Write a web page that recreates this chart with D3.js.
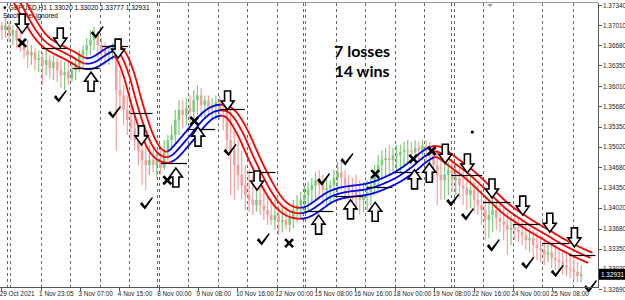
<!DOCTYPE html>
<html lang="en">
<head>
<meta charset="UTF-8">
<title>GBPUSD H1</title>
<style>
    body{ margin:0; background:#fff; }
    svg text{ font-family: "Liberation Sans", "Noto Sans", sans-serif; }
    .axis path, .axis line{ stroke:#555; shape-rendering: crispEdges; }
    .axis text{ fill:#222; font-size:6.4px; }
</style>
</head>
<body>
<svg width="625" height="300"></svg>
<script src="https://cdn.jsdelivr.net/npm/d3@7"></script>
<script>
// ---- data (H1 bars, 3 bars per drawn candle) ----
var firstOpen = 1.3700;
var candleHigh = [1.3706,1.3713,1.3706,1.3701,1.3696,1.3690,1.3680,1.3677,1.3668,1.3663,
    1.3660,1.3657,1.3660,1.3652,1.3652,1.3647,1.3644,1.3641,1.3644,1.3641,
    1.3647,1.3660,1.3668,1.3680,1.3693,1.3698,1.3690,1.3680,1.3673,1.3668,
    1.3672,1.3668,1.3627,1.3603,1.3586,1.3578,1.3554,1.3537,1.3521,1.3513,
    1.3505,1.3500,1.3496,1.3500,1.3513,1.3521,1.3537,1.3562,1.3578,1.3578,
    1.3582,1.3586,1.3595,1.3603,1.3598,1.3586,1.3586,1.3582,1.3586,1.3585,
    1.3578,1.3570,1.3562,1.3529,1.3513,1.3496,1.3472,1.3464,1.3456,1.3447,
    1.3444,1.3431,1.3423,1.3418,1.3415,1.3406,1.3402,1.3406,1.3398,1.3415,
    1.3423,1.3428,1.3439,1.3444,1.3451,1.3460,1.3464,1.3456,1.3451,1.3447,
    1.3464,1.3477,1.3480,1.3464,1.3456,1.3451,1.3456,1.3447,1.3444,1.3447,
    1.3451,1.3472,1.3488,1.3496,1.3500,1.3505,1.3500,1.3505,1.3505,1.3510,
    1.3513,1.3510,1.3513,1.3510,1.3513,1.3513,1.3510,1.3505,1.3496,1.3488,
    1.3480,1.3477,1.3480,1.3472,1.3467,1.3464,1.3460,1.3456,1.3444,1.3439,
    1.3431,1.3423,1.3415,1.3418,1.3415,1.3406,1.3402,1.3395,1.3390,1.3390,
    1.3385,1.3382,1.3374,1.3369,1.3366,1.3362,1.3357,1.3349,1.3346,1.3341,
    1.3341,1.3336,1.3333,1.3329,1.3325,1.3320,1.3313,1.3308];
var candleLow = [1.3677,1.3680,1.3673,1.3668,1.3663,1.3657,1.3647,1.3631,1.3636,1.3627,
    1.3624,1.3603,1.3619,1.3614,1.3611,1.3608,1.3598,1.3595,1.3603,1.3608,
    1.3611,1.3624,1.3631,1.3644,1.3652,1.3660,1.3647,1.3641,1.3636,1.3636,
    1.3644,1.3496,1.3562,1.3537,1.3521,1.3513,1.3496,1.3472,1.3439,1.3431,
    1.3456,1.3460,1.3451,1.3456,1.3464,1.3480,1.3496,1.3505,1.3521,1.3532,
    1.3537,1.3542,1.3549,1.3554,1.3549,1.3549,1.3554,1.3549,1.3546,1.3546,
    1.3529,1.3496,1.3423,1.3415,1.3431,1.3415,1.3398,1.3395,1.3390,1.3395,
    1.3390,1.3382,1.3374,1.3374,1.3366,1.3357,1.3362,1.3366,1.3362,1.3369,
    1.3379,1.3385,1.3395,1.3398,1.3406,1.3415,1.3418,1.3406,1.3406,1.3406,
    1.3415,1.3423,1.3431,1.3418,1.3415,1.3406,1.3398,1.3390,1.3395,1.3398,
    1.3406,1.3423,1.3431,1.3447,1.3451,1.3456,1.3460,1.3464,1.3460,1.3467,
    1.3472,1.3472,1.3480,1.3477,1.3480,1.3477,1.3472,1.3447,1.3406,1.3415,
    1.3415,1.3423,1.3428,1.3423,1.3418,1.3406,1.3398,1.3402,1.3395,1.3390,
    1.3374,1.3349,1.3352,1.3362,1.3366,1.3362,1.3349,1.3325,1.3341,1.3349,
    1.3346,1.3341,1.3333,1.3329,1.3320,1.3316,1.3313,1.3308,1.3313,1.3303,
    1.3300,1.3297,1.3292,1.3290,1.3287,1.3284,1.3280,1.3280];
var candleClose = [1.3693,1.3701,1.3685,1.3693,1.3677,1.3668,1.3660,1.3652,1.3657,1.3644,
    1.3647,1.3636,1.3644,1.3631,1.3641,1.3627,1.3619,1.3624,1.3614,1.3627,
    1.3636,1.3652,1.3660,1.3668,1.3677,1.3685,1.3668,1.3660,1.3652,1.3657,
    1.3660,1.3595,1.3586,1.3562,1.3546,1.3532,1.3513,1.3496,1.3480,1.3472,
    1.3480,1.3472,1.3480,1.3467,1.3496,1.3513,1.3521,1.3546,1.3562,1.3554,
    1.3565,1.3559,1.3578,1.3586,1.3570,1.3578,1.3565,1.3570,1.3575,1.3562,
    1.3559,1.3513,1.3496,1.3472,1.3456,1.3439,1.3423,1.3415,1.3406,1.3415,
    1.3406,1.3398,1.3390,1.3382,1.3390,1.3379,1.3382,1.3374,1.3385,1.3398,
    1.3406,1.3415,1.3423,1.3431,1.3439,1.3447,1.3439,1.3431,1.3434,1.3439,
    1.3451,1.3460,1.3451,1.3439,1.3431,1.3428,1.3423,1.3415,1.3423,1.3428,
    1.3439,1.3460,1.3472,1.3480,1.3483,1.3480,1.3488,1.3488,1.3493,1.3496,
    1.3496,1.3493,1.3500,1.3496,1.3503,1.3496,1.3500,1.3472,1.3456,1.3447,
    1.3456,1.3464,1.3447,1.3451,1.3439,1.3434,1.3423,1.3431,1.3415,1.3406,
    1.3398,1.3382,1.3390,1.3398,1.3385,1.3379,1.3374,1.3366,1.3369,1.3366,
    1.3362,1.3357,1.3349,1.3352,1.3341,1.3336,1.3333,1.3325,1.3329,1.3320,
    1.3316,1.3313,1.3308,1.3303,1.3300,1.3297,1.3290,1.3293];

// trend band centre line (bar index, price) and trend direction by bar range
var bandBars = [10,17,24,33,41,49,59,65,70,76,81,88,93,97,101,106,111,118,124,130,137,143,150,157,163,169,176,183,189,198,206,213,221,228,236,244,250,256,262,268,276,285,295,302,309,317,323,329,336,341,348,353,358,363,370,380,390,401,412,423,433,445,455,466,474,480];
var bandVals = [1.3758,1.3737,1.3709,1.3680,1.3667,1.3659,1.3649,1.3641,1.3637,1.3639,1.3645,1.3655,1.3660,1.3657,1.3642,1.3614,1.3573,1.3529,1.3501,1.3487,1.3483,1.3493,1.3510,1.3526,1.3542,1.3554,1.3562,1.3562,1.3555,1.3524,1.3485,1.3456,1.3426,1.3406,1.3395,1.3392,1.3395,1.3402,1.3411,1.3420,1.3426,1.3429,1.3431,1.3434,1.3439,1.3446,1.3452,1.3460,1.3470,1.3480,1.3490,1.3495,1.3493,1.3485,1.3474,1.3460,1.3441,1.3420,1.3398,1.3384,1.3370,1.3357,1.3344,1.3333,1.3325,1.3320];
var bandTrend = [[0,69,"down"],[69,93,"up"],[93,137,"down"],[137,179,"up"],[179,244,"down"],[244,351,"up"],[351,490,"down"]];

// signals: [bar, price]
var downArrows = [[18,1.3688],[49,1.3665],[96,1.3647],[115,1.3505],[185,1.3562],[209,1.3431],[362,1.3475],[380,1.3459],[400,1.3418],[425,1.3390],[447,1.3362],[467,1.3338]];
var upArrows = [[74,1.3624],[143,1.3467],[161,1.3534],[259,1.3390],[285,1.3415],[305,1.3411],[337,1.3464],[349,1.3475]];
var entryLines = [[34,55,1.3663],[59,81,1.3631],[83,104,1.3667],[106,124,1.3557],[131,152,1.3475],[152,175,1.3531],[179,199,1.3564],[202,224,1.3460],[248,271,1.3397],[272,295,1.3421],[298,319,1.3436],[321,341,1.3460],[367,392,1.3456],[393,415,1.3411],[417,439,1.3375],[441,463,1.3344],[463,484,1.3325]];
var wins = [[49,1.3583],[79,1.3688],[93,1.3557],[119,1.3408],[187,1.3495],[214,1.3349],[263,1.3447],[282,1.3480],[368,1.3413],[380,1.3390],[401,1.3339],[429,1.3310],[453,1.3297],[480,1.3272]];
var losses = [[18,1.3672],[136,1.3447],[158,1.3544],[235,1.3344],[305,1.3457],[336,1.3482],[351,1.3495]];
var dots = [[384,1.3526]];

// axes
var priceTicks = [1.37340,1.37010,1.36680,1.36350,1.36010,1.35680,1.35350,1.35020,1.34680,1.34350,1.34020,1.33680,1.33350,1.33020,1.32690];
var timeBars = [1,33,65,97,129,161,193,225,257,289,321,353,385,417,449];
var timeLabels = ["29 Oct 2021","1 Nov 23:05","3 Nov 07:00","4 Nov 15:00","8 Nov 00:00","9 Nov 08:00","10 Nov 16:00","12 Nov 00:00","15 Nov 08:00","16 Nov 16:00","18 Nov 00:00","19 Nov 08:00","22 Nov 16:00","24 Nov 00:00","25 Nov 08:00"];
var daySeparators = [6,8,33,57,81,105,127.5,129,153,177,201,225,246,248,273,297,321,345,367,369,393,417,441,466];
var lastPrice = 1.32931;

var svg = d3.select("svg"),
    plotRight = 598, plotTop = 3, plotBottom = 287;

var x = d3.scaleLinear().domain([0, 480]).range([0, 590.4]);
var y = d3.scaleLinear().domain([1.3269, 1.3734]).range([289, 5]);

svg.append("clipPath").attr("id", "plot")
    .append("rect").attr("x", 0).attr("y", plotTop).attr("width", plotRight).attr("height", plotBottom - plotTop);

// day separators
svg.append("g").selectAll("line").data(daySeparators).enter().append("line")
    .attr("x1", function(d){ return Math.round(x(d)) + 0.5; })
    .attr("x2", function(d){ return Math.round(x(d)) + 0.5; })
    .attr("y1", plotTop).attr("y2", plotBottom)
    .attr("stroke", "#666").attr("stroke-dasharray", "3,3");

// header
svg.append("text").attr("x", 3).attr("y", 10).attr("font-size", 6.6).attr("fill", "#000")
    .text("\u25BE GBPUSD,H1  1.33020 1.33020 1.33777 1.32931");
svg.append("text").attr("x", 3).attr("y", 18).attr("font-size", 6.6).attr("fill", "#000")
    .text("Stoch filter ignored");

// candles
var candles = candleClose.map(function(c, i){
    return {bar: 3*i + 1.5, o: i ? candleClose[i-1] : firstOpen, h: candleHigh[i], l: candleLow[i], c: c};
});
var cg = svg.append("g").attr("clip-path", "url(#plot)");
cg.selectAll(".wick").data(candles).enter().append("line")
    .attr("x1", function(d){ return x(d.bar); })
    .attr("x2", function(d){ return x(d.bar); })
    .attr("y1", function(d){ return y(d.h); })
    .attr("y2", function(d){ return y(d.l); })
    .attr("stroke", function(d){ return d.c >= d.o ? "#7ccc7c" : "#f5a0a0"; })
    .attr("stroke-width", 1.2);
cg.selectAll(".body").data(candles).enter().append("rect")
    .attr("x", function(d){ return x(d.bar) - 1.3; })
    .attr("width", 2.6)
    .attr("y", function(d){ return y(Math.max(d.o, d.c)); })
    .attr("height", function(d){ return Math.max(1, Math.abs(y(d.o) - y(d.c))); })
    .attr("fill", function(d){ return d.c >= d.o ? "#7ccc7c" : "#f5a0a0"; });

// trend band: centre curve plus two offset curves, coloured by trend
var off = 5.5;
var tmp = svg.append("path")
    .attr("d", d3.line().curve(d3.curveBasis)(bandBars.map(function(b, i){ return [x(b), y(bandVals[i])]; })));
var node = tmp.node(), L = node.getTotalLength();
var samples = d3.range(0, L, 1).concat([L]).map(function(l){ return node.getPointAtLength(l); });
tmp.remove();

function trendAt(bar){
    for (var k = 0; k < bandTrend.length; k++)
        if (bar >= bandTrend[k][0] && bar < bandTrend[k][1]) return bandTrend[k][2];
    return "down";
}
var bg = svg.append("g").attr("clip-path", "url(#plot)");
[-1, 0, 1].forEach(function(k){
    var pts = samples.map(function(p, j){
        var a = samples[Math.max(0, j-2)], b = samples[Math.min(samples.length-1, j+2)];
        var dx = b.x - a.x, dy = b.y - a.y, len = Math.hypot(dx, dy) || 1;
        return {x: p.x - k*off*dy/len, y: p.y + k*off*dx/len, t: trendAt(x.invert(p.x))};
    });
    var segs = [], cur = null;
    pts.forEach(function(p){
        if (!cur || cur.t !== p.t){
            if (cur) cur.pts.push(p);
            cur = {t: p.t, pts: []};
            segs.push(cur);
        }
        cur.pts.push(p);
    });
    bg.selectAll(null).data(segs).enter().append("path")
        .attr("d", function(s){ return d3.line().x(function(p){ return p.x; }).y(function(p){ return p.y; })(s.pts); })
        .attr("fill", "none")
        .attr("stroke", function(s){ return s.t === "down" ? "#ff0000" : "#0000ff"; })
        .attr("stroke-width", 1.8);
});

// entry levels
svg.append("g").selectAll("line").data(entryLines).enter().append("line")
    .attr("x1", function(d){ return x(d[0]); })
    .attr("x2", function(d){ return x(d[1]); })
    .attr("y1", function(d){ return Math.round(y(d[2])) + 0.5; })
    .attr("y2", function(d){ return Math.round(y(d[2])) + 0.5; })
    .attr("stroke", "#000").attr("stroke-width", 1.2);

// arrows (tip at the data point)
var arrowPath = "M-3,-19L3,-19L3,-9L6.5,-9L0,0L-6.5,-9L-3,-9Z";
svg.append("g").selectAll("path").data(downArrows).enter().append("path")
    .attr("d", arrowPath)
    .attr("transform", function(d){ return "translate(" + x(d[0]) + "," + y(d[1]) + ")"; })
    .attr("fill", "#fff").attr("stroke", "#000").attr("stroke-width", 1.6);
svg.append("g").selectAll("path").data(upArrows).enter().append("path")
    .attr("d", arrowPath)
    .attr("transform", function(d){ return "translate(" + x(d[0]) + "," + y(d[1]) + ") scale(1,-1)"; })
    .attr("fill", "#fff").attr("stroke", "#000").attr("stroke-width", 1.6);

// wins (check marks)
svg.append("g").selectAll("path").data(wins).enter().append("path")
    .attr("d", "M-6.5,0L-4.3,-2.2L-1.6,1.8L5.6,-7.2L6.6,-6.2L-1.4,5.4Z")
    .attr("transform", function(d){ return "translate(" + x(d[0]) + "," + y(d[1]) + ")"; })
    .attr("fill", "#000");

// losses (crosses)
var lg = svg.append("g").selectAll("g").data(losses).enter().append("g")
    .attr("transform", function(d){ return "translate(" + x(d[0]) + "," + y(d[1]) + ")"; });
lg.append("path").attr("d", "M-4,-4L4,4M4,-4L-4,4")
    .attr("stroke", "#000").attr("stroke-width", 2.6);

svg.append("g").selectAll("circle").data(dots).enter().append("circle")
    .attr("cx", function(d){ return x(d[0]); })
    .attr("cy", function(d){ return y(d[1]); })
    .attr("r", 1.6).attr("fill", "#000");

// result text
svg.append("text").attr("x", 362).attr("y", 57).attr("text-anchor", "middle")
    .style("font-family", "Lato, sans-serif").style("font-weight", "bold").style("font-size", "16px")
    .text("7 losses");
svg.append("text").attr("x", 362).attr("y", 77).attr("text-anchor", "middle")
    .style("font-family", "Lato, sans-serif").style("font-weight", "bold").style("font-size", "16px")
    .text("14 wins");

// frame
svg.append("line").attr("x1", 0).attr("x2", plotRight).attr("y1", 2.5).attr("y2", 2.5).attr("stroke", "#999");
svg.append("path").attr("d", "M487,4L493,4L490,7Z").attr("fill", "#999");

// price axis
var ya = svg.append("g").attr("class", "axis").attr("transform", "translate(" + (plotRight + 0.5) + ",0)")
    .call(d3.axisRight(y).tickValues(priceTicks).tickFormat(d3.format(".5f")).tickSize(3).tickPadding(1.5));
ya.select(".domain").attr("d", "M0," + 2.5 + "V" + (plotBottom + 0.5));

// time axis
var xa = svg.append("g").attr("class", "axis").attr("transform", "translate(0," + (plotBottom + 0.5) + ")")
    .call(d3.axisBottom(x).tickValues(timeBars).tickFormat(function(d, i){ return timeLabels[i]; }).tickSize(3).tickPadding(1));
xa.select(".domain").attr("d", "M0,0H" + (plotRight + 0.5));
xa.selectAll("text").attr("text-anchor", "start").attr("dx", "-2");

// last price label
var lp = y(lastPrice);
svg.append("rect").attr("x", plotRight + 1).attr("y", lp - 5.5).attr("width", 26).attr("height", 11).attr("fill", "#000");
svg.append("text").attr("x", plotRight + 3).attr("y", lp + 2.3).attr("font-size", 6.4).attr("fill", "#fff")
    .text(d3.format(".5f")(lastPrice));
</script>
</body>
</html>
